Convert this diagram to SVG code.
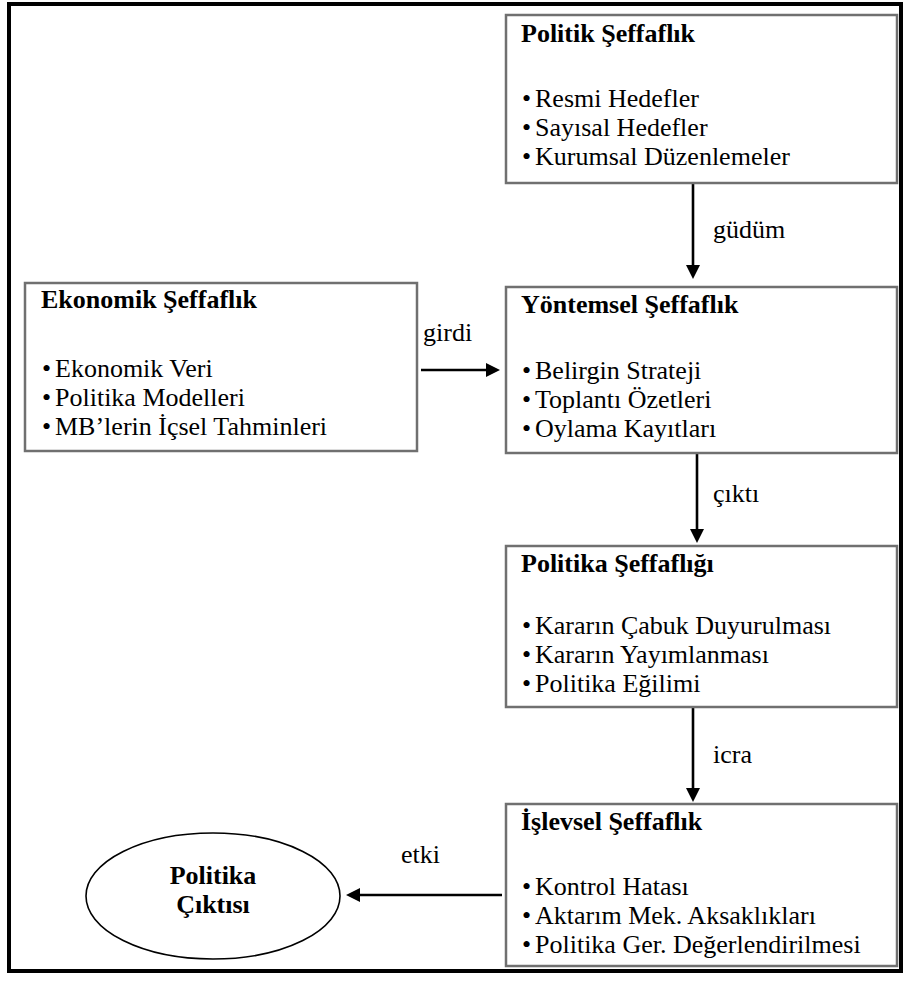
<svg xmlns="http://www.w3.org/2000/svg" width="904" height="981" viewBox="0 0 904 981">
<defs>
<style>
.frame{fill:none;stroke:#000;stroke-width:4}
.box{fill:#fff;stroke:#707070;stroke-width:2.5}
text{font-family:'Liberation Serif','Times New Roman',Times,serif;font-size:26px;fill:#000}
.b{font-weight:bold}
.edge{stroke:#000;stroke-width:2.6;fill:none;marker-end:url(#ah)}
</style>
<marker id="ah" viewBox="0 0 14 14" refX="4" refY="7" markerWidth="14" markerHeight="14" orient="auto" markerUnits="userSpaceOnUse">
<path d="M0,0 L14,7 L0,14 z" fill="#000"/>
</marker>
</defs>
<rect x="0" y="0" width="904" height="981" fill="#fff"/>
<rect class="frame" x="9" y="4" width="892" height="967"/>

<g id="connectors">
<line class="edge" x1="693" y1="184" x2="693" y2="269"/>
<line class="edge" x1="421" y1="370" x2="490" y2="370"/>
<line class="edge" x1="697" y1="454" x2="697" y2="533"/>
<line class="edge" x1="693" y1="708" x2="693" y2="792"/>
<line class="edge" x1="502" y1="895" x2="356" y2="895"/>
<text x="713" y="238">güdüm</text>
<text x="423" y="341">girdi</text>
<text x="713" y="502">çıktı</text>
<text x="713" y="763">icra</text>
<text x="401" y="863">etki</text>
</g>

<g id="politik">
<rect class="box" x="506" y="15" width="391" height="168"/>
<text class="b" x="521" y="42">Politik Şeffaflık</text>
<text x="522" y="107">•<tspan x="535">Resmi Hedefler</tspan></text>
<text x="522" y="136">•<tspan x="535">Sayısal Hedefler</tspan></text>
<text x="522" y="165">•<tspan x="535">Kurumsal Düzenlemeler</tspan></text>
</g>

<g id="ekonomik">
<rect class="box" x="25" y="283" width="392" height="168"/>
<text class="b" x="41" y="308">Ekonomik Şeffaflık</text>
<text x="42" y="377">•<tspan x="55">Ekonomik Veri</tspan></text>
<text x="42" y="406">•<tspan x="55">Politika Modelleri</tspan></text>
<text x="42" y="435">•<tspan x="55">MB’lerin İçsel Tahminleri</tspan></text>
</g>

<g id="yontemsel">
<rect class="box" x="506" y="287" width="391" height="166"/>
<text class="b" x="521" y="313">Yöntemsel Şeffaflık</text>
<text x="522" y="379">•<tspan x="535">Belirgin Strateji</tspan></text>
<text x="522" y="408">•<tspan x="535">Toplantı Özetleri</tspan></text>
<text x="522" y="437">•<tspan x="535">Oylama Kayıtları</tspan></text>
</g>

<g id="politikasef">
<rect class="box" x="506" y="546" width="391" height="161"/>
<text class="b" x="521" y="572">Politika Şeffaflığı</text>
<text x="522" y="634">•<tspan x="535">Kararın Çabuk Duyurulması</tspan></text>
<text x="522" y="663">•<tspan x="535">Kararın Yayımlanması</tspan></text>
<text x="522" y="692">•<tspan x="535">Politika Eğilimi</tspan></text>
</g>

<g id="islevsel">
<rect class="box" x="506" y="804" width="391" height="162"/>
<text class="b" x="521" y="830">İşlevsel Şeffaflık</text>
<text x="522" y="895">•<tspan x="535">Kontrol Hatası</tspan></text>
<text x="522" y="924">•<tspan x="535">Aktarım Mek. Aksaklıkları</tspan></text>
<text x="522" y="953">•<tspan x="535">Politika Ger. Değerlendirilmesi</tspan></text>
</g>

<g id="cikti">
<ellipse cx="213" cy="896" rx="127" ry="63" fill="#fff" stroke="#000" stroke-width="1.6"/>
<text class="b" x="213" y="884" text-anchor="middle">Politika</text>
<text class="b" x="213" y="913" text-anchor="middle">Çıktısı</text>
</g>
</svg>
